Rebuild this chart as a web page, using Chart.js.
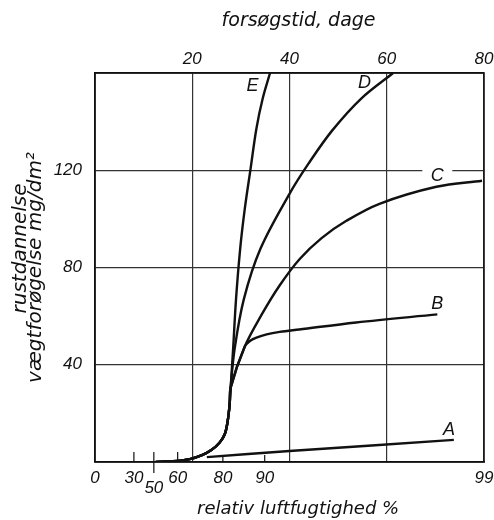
<!DOCTYPE html>
<html>
<head>
<meta charset="utf-8">
<script src="https://cdn.jsdelivr.net/npm/chart.js@4.4.1/dist/chart.umd.min.js"></script>
<style>
  html, body { margin: 0; padding: 0; background: #fff; }
  canvas { display: block; }
</style>
</head>
<body>
<canvas id="rust" width="494" height="520"></canvas>
<script>
// fælles startkurve for B, C, D og E (dage, mg/dm2)
const baseDays = [12.5, 16, 19.5, 22, 24, 25.6, 26.7, 27.3, 27.7, 27.9];
const baseVals = [0, 0.3, 1.2, 2.8, 5, 7.9, 11.5, 17, 24, 30.6];

const daysE = [28.4, 29.0, 29.85, 30.8, 32.0, 33.2, 34.5, 36.0];
const valsE = [46.3, 66.9, 87.6, 104.1, 120.7, 137.2, 149.6, 160];

const daysD = [28.7, 30.6, 34.0, 40, 43.9, 48.8, 54.8, 61.3];
const valsD = [46.3, 66.9, 87.6, 110.3, 122.7, 136.4, 149.6, 160];

const daysC = [30.8, 34.3, 38.0, 42.1, 46.6, 51.7, 58.5, 70.2, 79.6];
const valsC = [47.5, 60.7, 72.7, 83.5, 92.1, 99.2, 106.2, 113.2, 115.7];

const daysB = [30.8, 32.0, 33.2, 35.3, 38.0, 42.0, 53.7, 70.4];
const valsB = [47.5, 50, 51.2, 52.5, 53.5, 54.5, 57.4, 60.7];

const daysA = [23, 40, 73.8];
const valsA = [2, 4.5, 9.1];

// akser
const topTicks = [20, 40, 60, 80];
const yTicks = [40, 80, 120];
const humidityLabels = ['0', '30', '50', '60', '80', '90', '99'];
const humidityAtDays = [0, 8, 12.1, 17, 26.3, 34.9, 80];

// kurvebogstaver (dage, mg/dm2)
const curveNames = ['E', 'D', 'C', 'B', 'A'];
const nameDays = [32.4, 55.4, 70.4, 70.4, 72.8];
const nameVals = [154.5, 155.8, 117.8, 64.9, 13.2];

function points(days, vals, withBase) {
    const out = [];
    if (withBase) {
        baseDays.forEach((d, i) => out.push({x: d, y: baseVals[i]}));
    }
    days.forEach((d, i) => out.push({x: d, y: vals[i]}));
    return out;
}

const tickFont = {family: '"Liberation Sans"', size: 17, style: 'italic'};
const titleFont = {family: '"DejaVu Sans"', size: 19, style: 'italic'};

function line(data) {
    return {
        data: data,
        xAxisID: 'xTop',
        yAxisID: 'y',
        borderColor: '#111',
        borderWidth: 2.4,
        pointRadius: 0,
        fill: false,
        tension: 0.35
    };
}

// fast størrelse på akserne
function fixSize(size) {
    return function (scale) {
        if (scale.isHorizontal()) scale.height = size; else scale.width = size;
        scale.paddingLeft = 0; scale.paddingRight = 0;
        scale.paddingTop = 0; scale.paddingBottom = 0;
    };
}

const extras = {
    id: 'extras',
    beforeDatasetsDraw(chart) {
        const {ctx} = chart;
        const xs = chart.scales.xTop, ys = chart.scales.y;
        // hul i gitterlinjen ved C
        const cx = xs.getPixelForValue(nameDays[2]);
        const cy = ys.getPixelForValue(nameVals[2]);
        ctx.save();
        ctx.fillStyle = '#fff';
        ctx.fillRect(cx - 15, cy - 11, 30, 17);
        ctx.restore();
    },
    afterDraw(chart) {
        const {ctx, chartArea: a} = chart;
        const xs = chart.scales.xTop, ys = chart.scales.y, xb = chart.scales.x;
        ctx.save();
        ctx.strokeStyle = '#111';
        ctx.lineWidth = 1.5;
        ctx.strokeRect(a.left, a.top, a.right - a.left, a.bottom - a.top);

        // små streger på den nederste akse
        ctx.lineWidth = 1.2;
        humidityLabels.forEach((lab, i) => {
            if (i === 0 || i === humidityLabels.length - 1) return;
            const px = xb.getPixelForValue(humidityAtDays[i]);
            let up = 10, down = 0;
            if (lab === '50') { down = 11; }
            if (lab === '80') { up = 5; }
            if (lab === '90') { up = 7; }
            ctx.beginPath();
            ctx.moveTo(px, a.bottom - up);
            ctx.lineTo(px, a.bottom + down);
            ctx.stroke();
        });

        ctx.fillStyle = '#111';
        ctx.font = 'italic 18px "Liberation Sans"';
        ctx.textAlign = 'center';
        ctx.textBaseline = 'middle';
        curveNames.forEach((n, i) => {
            ctx.fillText(n, xs.getPixelForValue(nameDays[i]), ys.getPixelForValue(nameVals[i]));
        });
        ctx.restore();
    }
};

Chart.defaults.color = '#111';

new Chart(document.getElementById('rust'), {
    type: 'line',
    data: {
        datasets: [
            line(points(daysE, valsE, true)),
            line(points(daysD, valsD, true)),
            line(points(daysC, valsC, true)),
            line(points(daysB, valsB, true)),
            line(points(daysA, valsA, false))
        ]
    },
    options: {
        responsive: false,
        animation: false,
        layout: {padding: {left: 0, right: 10, top: 0, bottom: 0}},
        plugins: {legend: {display: false}, tooltip: {enabled: false}},
        scales: {
            xTop: {
                type: 'linear',
                position: 'top',
                min: 0,
                max: 80,
                afterBuildTicks: s => { s.ticks = topTicks.map(v => ({value: v})); },
                afterFit: fixSize(73),
                ticks: {font: tickFont, padding: 4, maxRotation: 0},
                grid: {color: '#333', lineWidth: 1.2, drawTicks: false},
                border: {display: true, color: '#111', width: 1.5},
                title: {display: true, text: '   forsøgstid, dage', font: titleFont, padding: {top: 10, bottom: 0}}
            },
            x: {
                type: 'linear',
                position: 'bottom',
                min: 0,
                max: 80,
                afterBuildTicks: s => { s.ticks = humidityAtDays.map(v => ({value: v})); },
                afterFit: fixSize(58),
                ticks: {
                    font: Object.assign({}, tickFont, {lineHeight: 0.6}),
                    padding: 3,
                    autoSkip: false,
                    maxRotation: 0,
                    callback: (v, i) => humidityLabels[i] === '50' ? ['', '50'] : humidityLabels[i]
                },
                grid: {display: false, drawOnChartArea: false},
                border: {display: true, color: '#111', width: 1.5},
                title: {display: true, text: '   relativ luftfugtighed %', font: Object.assign({}, titleFont, {size: 18}), padding: {top: 0, bottom: 0}}
            },
            y: {
                type: 'linear',
                position: 'left',
                min: 0,
                max: 160,
                afterBuildTicks: s => { s.ticks = yTicks.map(v => ({value: v})); },
                afterFit: fixSize(95),
                ticks: {font: tickFont, padding: 13},
                grid: {color: '#333', lineWidth: 1.2, drawTicks: false},
                border: {display: true, color: '#111', width: 1.5},
                title: {
                    display: true,
                    text: ['      rustdannelse', 'vægtforøgelse mg/dm²'],
                    font: Object.assign({}, titleFont, {size: 20, lineHeight: 0.75}),
                    padding: {top: 13, bottom: 0}
                }
            }
        }
    },
    plugins: [extras]
});
</script>
</body>
</html>
